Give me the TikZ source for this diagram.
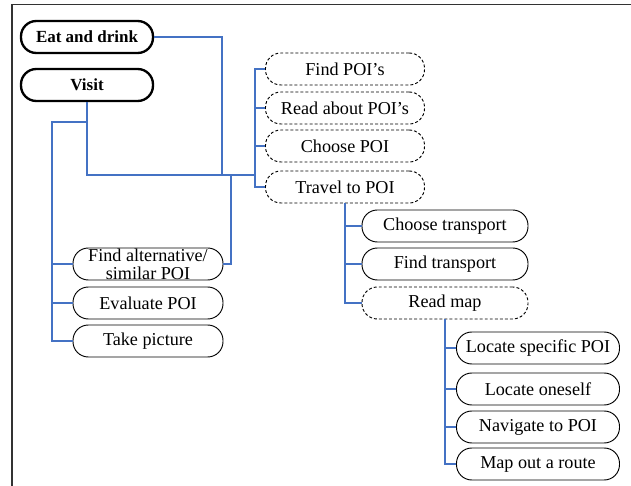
\documentclass[tikz,border=0pt]{standalone}
\usepackage{fontspec}
\setmainfont{Liberation Serif}
\usepackage{tikz}
\usetikzlibrary{positioning}
\definecolor{linkblue}{RGB}{68,114,196}

\tikzset{
  task/.style={draw, rounded corners=0.46cm, minimum height=0.96cm, inner sep=0pt,
    align=center, line width=0.8pt, font=\fontsize{15.5}{15.5}\selectfont},
  subtask/.style={task, dash pattern=on 2.5pt off 1.8pt},
  goal/.style={task, line width=2pt, font=\fontsize{14.5}{16}\selectfont\bfseries},
  link/.style={draw=linkblue, line width=1.2pt}
}

\begin{document}
\begin{tikzpicture}[x=0.03cm, y=-0.03cm]
          \useasboundingbox (0,0) rectangle (631,486);
          % frame
          \draw[black!80, line width=1pt] (12,486) -- (12,4.5) -- (631,4.5);

          % goals
          \node[goal, minimum width=3.96cm] (eat) at (87,37) {Eat and drink};
          \node[goal, minimum width=3.96cm] (visit) at (87,85) {Visit};

          % first level
          \node[subtask, minimum width=4.77cm] (findpoi) at (345,69) {Find POI’s};
          \node[subtask, minimum width=4.77cm] (readpoi) at (345,108) {Read about POI’s};
          \node[subtask, minimum width=4.77cm] (choosepoi) at (345,146) {Choose POI};
          \node[subtask, minimum width=4.77cm] (travel) at (345,187) {Travel to POI};

          % travelling
          \node[task, minimum width=4.98cm] (choosetr) at (445,226) {Choose transport};
          \node[task, minimum width=4.98cm] (findtr) at (445,264) {Find transport};
          \node[subtask, minimum width=4.98cm] (readmap) at (445,303) {Read map};

          % map reading
          \node[task, minimum width=4.89cm] (locpoi) at (538,348) {Locate specific POI};
          \node[task, minimum width=4.89cm] (locself) at (538,389) {Locate oneself};
          \node[task, minimum width=4.89cm] (navpoi) at (538,427) {Navigate to POI};
          \node[task, minimum width=4.89cm] (route) at (538,464) {Map out a route};

          % at the POI
          \node[task, minimum width=4.5cm] (findalt) at (148,264) {Find alternative/\\similar POI};
          \node[task, minimum width=4.5cm] (evalpoi) at (148,303) {Evaluate POI};
          \node[task, minimum width=4.5cm] (picture) at (148,341) {Take picture};

          % connectors
          \coordinate (hub) at (255,175);
          \coordinate (eatdrop) at (222,175);
          \coordinate (altdrop) at (231,175);
          \coordinate (visitknee) at (87,122);
          \coordinate (leftspine) at (52,122);

          \draw[link] (eat.east) -| (eatdrop);
          \draw[link] (visit.south) |- (hub);
          \draw[link] (hub) |- (findpoi.west);
          \draw[link] (hub) |- (readpoi.west);
          \draw[link] (hub) |- (choosepoi.west);
          \draw[link] (hub) |- (travel.west);

          \draw[link] (travel.south) |- (choosetr.west);
          \draw[link] (travel.south) |- (findtr.west);
          \draw[link] (travel.south) |- (readmap.west);

          \draw[link] (readmap.south) |- (locpoi.west);
          \draw[link] (readmap.south) |- (locself.west);
          \draw[link] (readmap.south) |- (navpoi.west);
          \draw[link] (readmap.south) |- (route.west);

          \draw[link] (visitknee) -- (leftspine) |- (findalt.west);
          \draw[link] (leftspine) |- (evalpoi.west);
          \draw[link] (leftspine) |- (picture.west);
          \draw[link] (altdrop) |- (findalt.east);
        \end{tikzpicture}
\end{document}
